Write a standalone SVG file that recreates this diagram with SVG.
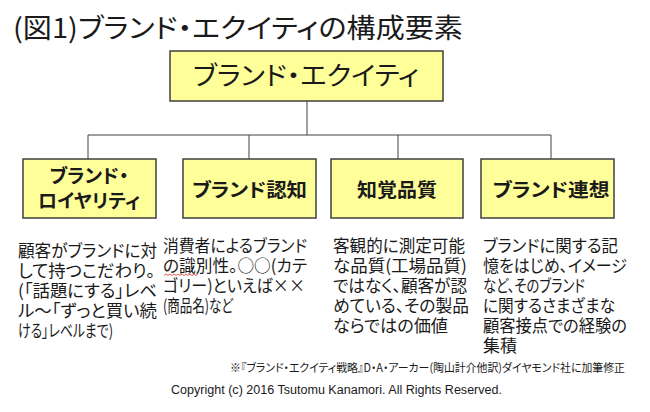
<svg xmlns="http://www.w3.org/2000/svg" width="650" height="412" viewBox="0 0 650 412">
<style>
.jp{font-family:"Noto Sans CJK JP","Noto Sans CJK SC",sans-serif;fill:#1a1a1a;font-feature-settings:"palt"}
.box{fill:#ffff99;stroke:#404040;stroke-width:1.5}
.bt{font-family:"Noto Sans CJK JP",sans-serif;font-weight:bold;font-size:19px;fill:#1a1a1a;text-anchor:middle;font-feature-settings:"palt"}
.desc{font-family:"Noto Sans CJK JP",sans-serif;font-size:17px;fill:#1a1a1a;font-feature-settings:"palt"}
.con{fill:none;stroke:#404040;stroke-width:1}
</style>
<rect width="650" height="412" fill="#ffffff"/>
<text class="jp" x="13" y="38" font-size="27" textLength="450" lengthAdjust="spacingAndGlyphs">(図1)ブランド・エクイティの構成要素</text>
<g id="connectors">
<path class="con" d="M307 101V135M88 135H551M88 135V159M249 135V159M398 135V159M551 135V159"/>
</g>
<g id="node-equity">
<rect class="box" x="170" y="51" width="273" height="50"/>
<text class="jp" x="306" y="85" font-size="26" text-anchor="middle" textLength="226" lengthAdjust="spacingAndGlyphs">ブランド・エクイティ</text>
</g>
<g id="node-loyalty">
<rect class="box" x="23" y="159" width="133" height="59"/>
<text class="bt" x="89" y="183" textLength="79" lengthAdjust="spacingAndGlyphs">ブランド・</text>
<text class="bt" x="89" y="208" textLength="102" lengthAdjust="spacingAndGlyphs">ロイヤリティ</text>
</g>
<g id="node-awareness">
<rect class="box" x="183" y="159" width="133" height="59"/>
<text class="bt" x="249.5" y="197" textLength="115" lengthAdjust="spacingAndGlyphs">ブランド認知</text>
</g>
<g id="node-quality">
<rect class="box" x="331" y="159" width="132" height="59"/>
<text class="bt" x="397" y="197" textLength="80" lengthAdjust="spacingAndGlyphs">知覚品質</text>
</g>
<g id="node-association">
<rect class="box" x="481" y="159" width="133" height="59"/>
<text class="bt" x="551" y="197" textLength="117" lengthAdjust="spacingAndGlyphs">ブランド連想</text>
</g>
<g id="desc-loyalty" class="desc">
<text x="18" y="257" textLength="139" lengthAdjust="spacingAndGlyphs">顧客がブランドに対</text>
<text x="18" y="277" textLength="137" lengthAdjust="spacingAndGlyphs">して持つこだわり。</text>
<text x="18" y="297" textLength="139" lengthAdjust="spacingAndGlyphs">(「話題にする」レベ</text>
<text x="18" y="317" textLength="139" lengthAdjust="spacingAndGlyphs">ル～「ずっと買い続</text>
<text x="18" y="337" textLength="95" lengthAdjust="spacingAndGlyphs">ける」レベルまで)</text>
</g>
<g id="desc-awareness" class="desc">
<text x="163" y="252" textLength="144" lengthAdjust="spacingAndGlyphs">消費者によるブランド</text>
<text x="163" y="272" textLength="144" lengthAdjust="spacingAndGlyphs">の識別性。○○(カテ</text>
<text x="163" y="292" textLength="142" lengthAdjust="spacingAndGlyphs">ゴリー)といえば××</text>
<text x="163" y="312" textLength="70" lengthAdjust="spacingAndGlyphs">(商品名)など</text>
<path d="M164 275.5l2-1.5 2 1.5 2-1.5 2 1.5 2-1.5 2 1.5 2-1.5 2 1.5 2-1.5 2 1.5 2-1.5 2 1.5 2-1.5 2 1.5 2-1.5 2 1.5 2-1.5" fill="none" stroke="#e03030" stroke-width="0.8"/>
</g>
<g id="desc-quality" class="desc">
<text x="333" y="252" textLength="132" lengthAdjust="spacingAndGlyphs">客観的に測定可能</text>
<text x="333" y="272" textLength="134" lengthAdjust="spacingAndGlyphs">な品質(工場品質)</text>
<text x="333" y="292" textLength="134" lengthAdjust="spacingAndGlyphs">ではなく、顧客が認</text>
<text x="333" y="312" textLength="136" lengthAdjust="spacingAndGlyphs">めている、その製品</text>
<text x="333" y="332" textLength="115" lengthAdjust="spacingAndGlyphs">ならではの価値</text>
</g>
<g id="desc-association" class="desc">
<text x="483" y="252" textLength="135" lengthAdjust="spacingAndGlyphs">ブランドに関する記</text>
<text x="483" y="272" textLength="144" lengthAdjust="spacingAndGlyphs">憶をはじめ、イメージ</text>
<text x="483" y="292" textLength="102" lengthAdjust="spacingAndGlyphs">など、そのブランド</text>
<text x="483" y="312" textLength="132" lengthAdjust="spacingAndGlyphs">に関するさまざまな</text>
<text x="483" y="332" textLength="144" lengthAdjust="spacingAndGlyphs">顧客接点での経験の</text>
<text x="483" y="352" textLength="34" lengthAdjust="spacingAndGlyphs">集積</text>
</g>
<text class="jp" x="230" y="372" font-size="11.5" textLength="395" lengthAdjust="spacingAndGlyphs">※『ブランド・エクイティ戦略』D・A・アーカー(陶山計介他訳)ダイヤモンド社に加筆修正</text>
<text x="171" y="394" font-family="'Liberation Sans',Arial,sans-serif" font-size="12.5" fill="#1a1a1a" textLength="331" lengthAdjust="spacingAndGlyphs">Copyright (c) 2016 Tsutomu Kanamori. All Rights Reserved.</text>
</svg>
